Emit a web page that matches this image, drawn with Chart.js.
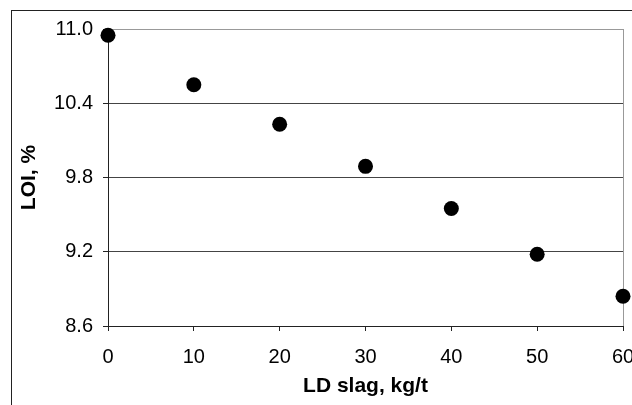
<!DOCTYPE html>
<html lang="en">
<head>
    <meta charset="UTF-8">
    <title>LOI vs LD slag</title>
    <script src="https://cdn.jsdelivr.net/npm/chart.js"></script>
    <style>
        html, body { margin: 0; padding: 0; background: #fff; overflow: hidden; }
        #wrap { position: relative; width: 632px; height: 405px; overflow: hidden; }
        /* cornice esterna: si vedono solo il lato sinistro e quello superiore */
        #frame { position: absolute; left: 11px; top: 10px; width: 700px; height: 500px;
                 border-left: 1px solid #222; border-top: 1px solid #222; }
        #chart { position: absolute; left: 0; top: 0; }
    </style>
</head>
<body>
    <div id="wrap">
        <div id="frame"></div>
        <canvas id="chart" width="650" height="405"></canvas>
    </div>

    <script>
// Dati
const ldSlag = [0, 10, 20, 30, 40, 50, 60];
const loi = [10.95, 10.55, 10.23, 9.89, 9.55, 9.18, 8.84];
const xTicks = [0, 10, 20, 30, 40, 50, 60];
const yTicks = [8.6, 9.2, 9.8, 10.4, 11.0];

const fontFamily = "'Liberation Sans', Arial, sans-serif";

const ctx = document.getElementById('chart').getContext('2d');
new Chart(ctx, {
    type: 'scatter',
    data: {
        datasets: [{
            label: 'LOI',
            data: ldSlag.map((x, i) => ({ x: x, y: loi[i] })),
            backgroundColor: '#000',
            borderWidth: 0,
            pointRadius: 7.5,
            pointHoverRadius: 7.5,
            clip: false
        }]
    },
    options: {
        responsive: false,
        animation: false,
        layout: { padding: { top: 29, right: 27, left: 0, bottom: 0 } },
        plugins: { legend: { display: false }, tooltip: { enabled: false } },
        scales: {
            x: {
                type: 'linear',
                min: 0,
                max: 60,
                afterBuildTicks: s => { s.ticks = xTicks.map(v => ({ value: v })); },
                afterFit: s => { s.height = 79; },
                grid: {
                    color: c => c.tick && c.tick.value === 60 ? '#999' : 'rgba(0,0,0,0)',
                    tickColor: '#222',
                    tickLength: 5,
                    lineWidth: 1
                },
                border: { color: '#222', width: 1 },
                ticks: {
                    color: '#000',
                    padding: 14,
                    maxRotation: 0,
                    font: { family: fontFamily, size: 20 },
                    callback: v => String(v)
                },
                title: {
                    display: true,
                    text: 'LD slag, kg/t',
                    color: '#000',
                    font: { family: fontFamily, size: 21, weight: 'bold' },
                    padding: { top: 0, bottom: 6 }
                }
            },
            y: {
                type: 'linear',
                min: 8.6,
                max: 11.0,
                afterBuildTicks: s => { s.ticks = yTicks.map(v => ({ value: v })); },
                afterFit: s => { s.width = 108; },
                grid: {
                    color: c => c.tick && c.tick.value === 11.0 ? '#999' : '#444',
                    tickColor: '#222',
                    tickLength: 5,
                    lineWidth: 1
                },
                border: { color: '#222', width: 1 },
                ticks: {
                    color: '#000',
                    padding: 10,
                    font: { family: fontFamily, size: 20 },
                    callback: v => Number(v).toFixed(1)
                },
                title: {
                    display: true,
                    text: 'LOI, %',
                    color: '#000',
                    font: { family: fontFamily, size: 21, weight: 'bold' },
                    padding: { top: 17, bottom: 0 }
                }
            }
        }
    }
});
    </script>
</body>
</html>
